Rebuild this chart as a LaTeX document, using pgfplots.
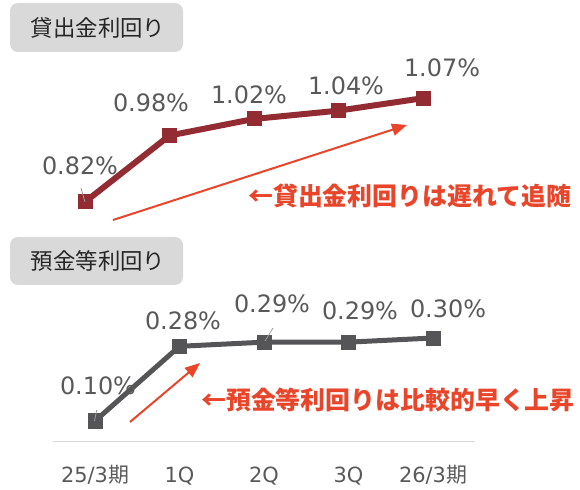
\documentclass[border=0pt]{standalone}
\usepackage{pgfplots}
\pgfplotsset{compat=1.18}
\usetikzlibrary{arrows.meta}
\usepackage{fontspec}
\setmainfont{DejaVu Sans}
\newfontfamily\cjk{Noto Sans CJK JP}

\definecolor{loanred}{HTML}{922B32}
\definecolor{depgray}{HTML}{555558}
\definecolor{notered}{HTML}{E8452A}
\definecolor{lblgray}{HTML}{595959}
\definecolor{boxgray}{HTML}{D9D9D9}
\definecolor{ttl}{HTML}{262626}

% values
\pgfplotstableread{
q  loan
0  0.82
1  0.98
2  1.02
3  1.04
4  1.07
}\loantab
\pgfplotstableread{
q  dep
0  0.10
1  0.28
2  0.29
3  0.29
4  0.30
}\deptab

\begin{document}
\begin{tikzpicture}[
  lbl/.style={font=\fontsize{24}{28}\selectfont, text=lblgray, anchor=base, inner sep=0pt},
  note/.style={font=\cjk\bfseries\fontsize{25}{30}\selectfont, text=notered, anchor=west, inner sep=0pt},
  ttlbox/.style={fill=boxgray, rounded corners=8bp},
  lead/.style={draw=lblgray!60, line width=0.8bp}]
\path (0,0) rectangle (580bp,490bp);

% title boxes
\fill[ttlbox] (10bp,438bp) rectangle (183bp,487bp);
\node[font=\cjk\fontsize{22.5}{27}\selectfont, text=ttl] at (98bp,462.5bp) {貸出金利回り};
\fill[ttlbox] (10bp,205bp) rectangle (183bp,253bp);
\node[font=\cjk\fontsize{22.5}{27}\selectfont, text=ttl] at (98bp,229bp) {預金等利回り};

% loan yield
\begin{axis}[at={(42.75bp,259bp)}, anchor=south west,
  scale only axis, width=422.5bp, height=166bp,
  xmin=-0.5, xmax=4.5, ymin=0.75, ymax=1.15,
  axis lines=none, clip=false]
\addplot[loanred, line width=6bp, mark=square*, mark size=7bp,
  mark options={solid, line width=0pt}] table[x=q, y=loan] {\loantab};
\end{axis}

% deposit yield
\begin{axis}[at={(52.75bp,48.25bp)}, anchor=south west,
  scale only axis, width=422.5bp, height=166bp,
  xmin=-0.5, xmax=4.5, ymin=0.05, ymax=0.45,
  axis x line=bottom, axis y line=none,
  x axis line style={draw=boxgray, line width=1.5bp, -},
  xtick={0,...,4}, major tick length=0pt,
  xticklabels={{25/3{\cjk 期}}, 1Q, 2Q, 3Q, {26/3{\cjk 期}}},
  xticklabel style={font=\fontsize{21}{25}\selectfont, text=lblgray,
    anchor=base, yshift=-41bp},
  ytick=\empty, clip=false]
\addplot[depgray, line width=5bp, mark=square*, mark size=7bp,
  mark options={solid, line width=0pt}] table[x=q, y=dep] {\deptab};
\end{axis}

% leader lines
\draw[lead] (81bp,302bp) -- (85bp,288bp);
\draw[lead] (96.7bp,80bp) -- (94.5bp,69bp);
\draw[lead] (273bp,162bp) -- (265bp,149bp);

% data labels
\node[lbl] at (80bp,315bp) {0.82\%};
\node[lbl] at (151bp,378bp) {0.98\%};
\node[lbl] at (249bp,386bp) {1.02\%};
\node[lbl] at (346bp,395bp) {1.04\%};
\node[lbl] at (442bp,413bp) {1.07\%};
\node[lbl] at (98bp,95bp) {0.10\%};
\node[lbl] at (183bp,160bp) {0.28\%};
\node[lbl] at (272bp,177bp) {0.29\%};
\node[lbl] at (360bp,170bp) {0.29\%};
\node[lbl] at (448bp,172bp) {0.30\%};

% annotations
\draw[notered, line width=2bp, -{Triangle[length=15bp, width=12bp]}] (113bp,270bp) -- (407bp,365bp);
\draw[notered, line width=2bp, -{Triangle[length=15bp, width=12bp]}] (130bp,68bp) -- (200bp,127bp);
\node[note] at (248bp,294bp) {←貸出金利回りは遅れて追随};
\node[note] at (201bp,90bp) {←預金等利回りは比較的早く上昇};
\end{tikzpicture}
\end{document}
